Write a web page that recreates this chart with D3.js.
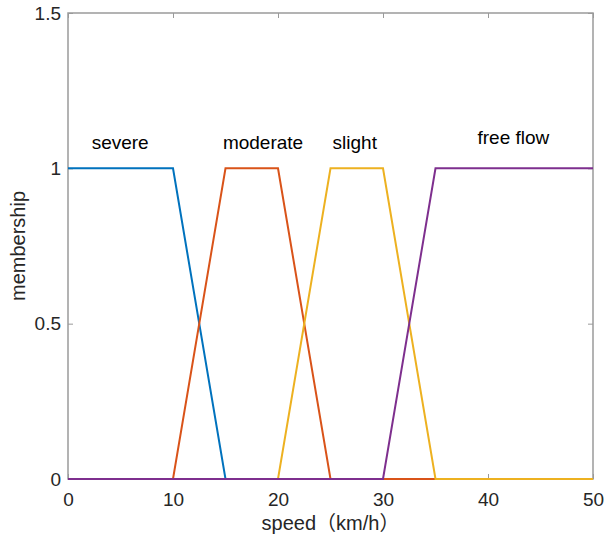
<!DOCTYPE html>
<html>
<head>
<meta charset="utf-8">
<script src="https://cdn.jsdelivr.net/npm/d3@7"></script>
<style>
  body { margin: 0; background: #fff; }
  svg { display: block; font-family: "Liberation Sans", Arial, sans-serif; }
</style>
</head>
<body>
<div id="chart"></div>
<script>
// membership functions, breakpoints
const severeX = [0, 10, 15, 50]
const severeY = [1, 1, 0, 0]
const moderateX = [0, 10, 15, 20, 25, 50]
const moderateY = [0, 0, 1, 1, 0, 0]
const slightX = [0, 20, 25, 30, 35, 50]
const slightY = [0, 0, 1, 1, 0, 0]
const freeX = [0, 30, 35, 50]
const freeY = [0, 0, 1, 1]

const xTicks = [0, 10, 20, 30, 40, 50]
const yTicks = [0, 0.5, 1, 1.5]

const labels = ['severe', 'moderate', 'slight', 'free flow']
const labelX = [2.25, 14.75, 25.2, 39]
const labelY = [1.085, 1.085, 1.085, 1.1]

const colors = ['#0072BD', '#D95319', '#EDB120', '#7E2F8E']

const W = 606, H = 542
const margin = { left: 68, right: 13, top: 13, bottom: 63 }

const svg = d3.select('#chart').append('svg')
  .attr('width', W).attr('height', H)

const x = d3.scaleLinear().domain([0, 50]).range([margin.left, W - margin.right])
const y = d3.scaleLinear().domain([0, 1.5]).range([H - margin.bottom, margin.top])

const axisColor = '#9a9a9a'
const textColor = '#262626'

// box
svg.append('rect')
  .attr('x', x(0)).attr('y', y(1.5))
  .attr('width', x(50) - x(0)).attr('height', y(0) - y(1.5))
  .attr('fill', 'none').attr('stroke', axisColor).attr('stroke-width', 1.5)

// axes with inward ticks
const styleAxis = g => {
  g.select('.domain').remove()
  g.selectAll('.tick line').attr('stroke', axisColor).attr('stroke-width', 1)
  g.selectAll('.tick text').attr('fill', textColor)
    .style('font-size', '19px').style('font-family', '"Liberation Sans", Arial, sans-serif')
}

svg.append('g')
  .attr('transform', `translate(0,${y(0)})`)
  .call(d3.axisBottom(x).tickValues(xTicks).tickSize(-5).tickPadding(14).tickFormat(d3.format('d')))
  .call(styleAxis)

svg.append('g')
  .attr('transform', `translate(0,${y(1.5)})`)
  .call(d3.axisTop(x).tickValues(xTicks).tickSize(-5).tickFormat(''))
  .call(g => g.select('.domain').remove())
  .call(g => g.selectAll('.tick line').attr('stroke', axisColor))

svg.append('g')
  .attr('transform', `translate(${x(0)},0)`)
  .call(d3.axisLeft(y).tickValues(yTicks).tickSize(-5).tickPadding(7).tickFormat(d => d))
  .call(styleAxis)

svg.append('g')
  .attr('transform', `translate(${x(50)},0)`)
  .call(d3.axisRight(y).tickValues(yTicks).tickSize(-5).tickFormat(''))
  .call(g => g.select('.domain').remove())
  .call(g => g.selectAll('.tick line').attr('stroke', axisColor))

// curves
const series = [
  [severeX, severeY],
  [moderateX, moderateY],
  [slightX, slightY],
  [freeX, freeY]
]
const line = d3.line().x(d => x(d[0])).y(d => y(d[1]))

series.forEach(([xs, ys], i) => {
  svg.append('path')
    .datum(xs.map((v, j) => [v, ys[j]]))
    .attr('d', line)
    .attr('fill', 'none')
    .attr('stroke', colors[i])
    .attr('stroke-width', 2)
    .attr('stroke-linejoin', 'miter')
})

// text labels
labels.forEach((t, i) => {
  svg.append('text')
    .attr('x', x(labelX[i])).attr('y', y(labelY[i]))
    .attr('dy', '0.35em')
    .attr('fill', '#000')
    .style('font-size', '19px')
    .text(t)
})

// axis titles
svg.append('text')
  .attr('x', (x(0) + x(50)) / 2).attr('y', 530)
  .attr('text-anchor', 'middle')
  .attr('fill', textColor)
  .style('font-size', '20px')
  .style('font-family', '"Liberation Sans", Arial, "Noto Sans CJK SC", sans-serif')
  .text('speed（km/h）')

svg.append('text')
  .attr('transform', `translate(25,${(y(0) + y(1.5)) / 2}) rotate(-90)`)
  .attr('text-anchor', 'middle')
  .attr('fill', textColor)
  .style('font-size', '20px')
  .text('membership')
</script>
</body>
</html>
